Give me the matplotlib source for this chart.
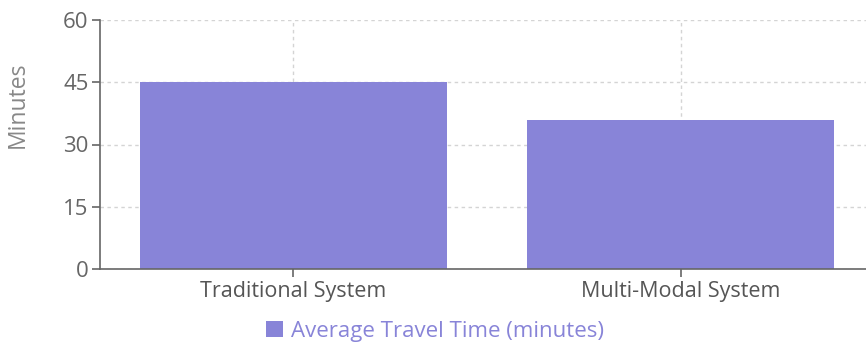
import matplotlib.pyplot as plt

categories = ['Traditional System', 'Multi-Modal System']
travel_time = [45, 36]
y_ticks = [0, 15, 30, 45, 60]

plt.rcParams['font.family'] = ['Open Sans', 'DejaVu Sans']

W, H = 866, 343
fig = plt.figure(figsize=(W / 100, H / 100), dpi=100)
# plot area in pixels: left 99.5, right 874.5 (runs past the picture edge), top 20, bottom 269
ax = fig.add_axes([99.5 / W, 1 - 269 / H, 775 / W, 249 / H])

x = range(len(categories))
ax.bar(x, travel_time, width=0.793, color='#8884d8', zorder=2,
       label='Average Travel Time (minutes)')

ax.set_xlim(-0.5, len(categories) - 0.5)
ax.set_ylim(0, 60)
ax.set_yticks(y_ticks)
ax.set_xticks(list(x))
ax.set_xticklabels(categories)

ax.grid(True, linestyle=(0, (2.5, 2.5)), color='#d4d4d4', linewidth=1, zorder=0)
for s in ['top', 'right']:
    ax.spines[s].set_visible(False)
for s in ['left', 'bottom']:
    ax.spines[s].set_color('#666666')
    ax.spines[s].set_linewidth(1.2)
    ax.spines[s].set_zorder(3)

ax.tick_params(axis='y', length=6, width=1.2, color='#666666', labelcolor='#666666',
               labelsize=16, pad=2)
ax.tick_params(axis='x', length=6, width=1.2, color='#666666', labelcolor='#555555',
               labelsize=15.5, pad=3)

ax.set_ylabel('Minutes', color='#888888', fontsize=16.5)
ax.yaxis.set_label_coords(-0.09, 0.66)

leg = ax.legend(loc='center', bbox_to_anchor=(0.433, -0.25), frameon=False,
                fontsize=16, handlelength=0.75, handleheight=0.75, handletextpad=0.35,
                borderpad=0)
for t in leg.get_texts():
    t.set_color('#8884d8')

fig.savefig('out.png', dpi=100)
